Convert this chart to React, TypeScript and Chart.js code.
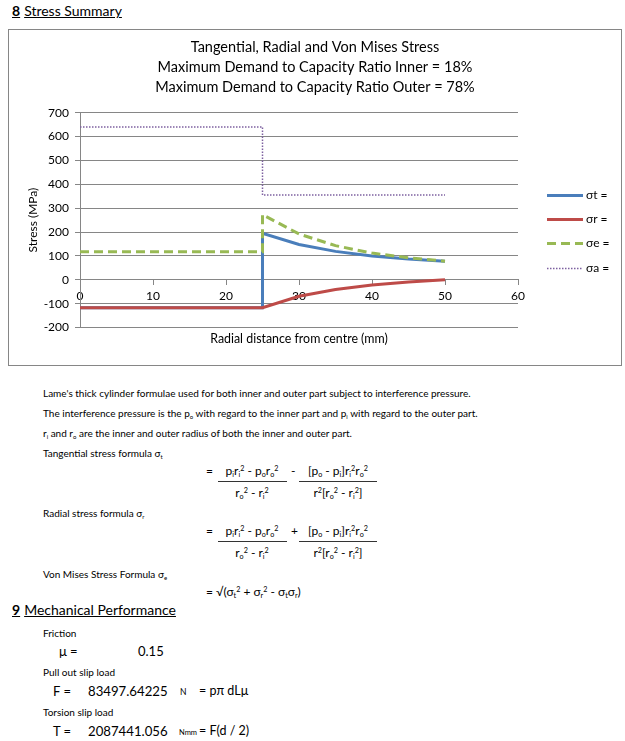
import React, { useEffect, useRef } from 'react';
import { Chart, registerables } from 'chart.js';

Chart.register(...registerables);

// ---------- chart data ----------
const titleLines = [
  'Tangential, Radial and Von Mises Stress',
  'Maximum Demand to Capacity Ratio Inner = 18%',
  'Maximum Demand to Capacity Ratio Outer = 78%',
];
const xAxisTitle = 'Radial distance from centre (mm)';
const yAxisTitle = 'Stress (MPa)';
const seriesNames = ['σt =', 'σr =', 'σe =', 'σa ='];

// tangential stress
const rT = [0, 25, 25, 30, 35, 40, 45, 50];
const sigmaT = [-117, -117, 195, 148, 119, 100, 87, 78];
// radial stress
const rR = [0, 25, 30, 35, 40, 45, 50];
const sigmaR = [-117, -117, -69, -41, -22, -9, 0];
// von mises stress
const rE = [0, 25, 25, 30, 35, 40, 45, 50];
const sigmaE = [117, 117, 273, 192, 143, 112, 92, 78];
// allowable stress
const rA = [0, 25, 25, 50];
const sigmaA = [640, 640, 355, 355];

const xMin = 0;
const xMax = 60;
const xStep = 10;
const yMin = -200;
const yMax = 700;
const yStep = 100;

const seriesColors = ['#4A7EBB', '#BE4B48', '#98B954', '#7D60A0'];

const FONT = 'Lato, "Open Sans", sans-serif';
const GRID = '#868686';

const pts = (xs: number[], ys: number[]) => xs.map((x, i) => ({ x, y: ys[i] }));

const sideLegend = {
  id: 'sideLegend',
  afterDraw(chart: any) {
    const { ctx, chartArea } = chart;
    const x0 = chartArea.right + 29;
    chart.data.datasets.forEach((ds: any, i: number) => {
      const y = Math.round(chartArea.top + 82 + i * 24.3) + 0.5;
      ctx.save();
      ctx.strokeStyle = ds.borderColor;
      ctx.lineWidth = ds.borderWidth;
      ctx.setLineDash(ds.borderDash || []);
      ctx.beginPath();
      ctx.moveTo(x0, y);
      ctx.lineTo(x0 + 36, y);
      ctx.stroke();
      ctx.setLineDash([]);
      ctx.fillStyle = '#000';
      ctx.font = `12px ${FONT}`;
      ctx.textBaseline = 'middle';
      ctx.textAlign = 'left';
      ctx.fillText(ds.label, x0 + 39, y);
      ctx.restore();
    });
  },
};

function StressChart() {
  const ref = useRef<HTMLCanvasElement | null>(null);
  useEffect(() => {
    if (!ref.current) return;
    const mk = (i: number, data: any[], width: number, dash: number[], order: number) => ({
      label: seriesNames[i],
      data,
      showLine: true,
      borderColor: seriesColors[i],
      backgroundColor: seriesColors[i],
      borderWidth: width,
      borderDash: dash,
      pointRadius: 0,
      pointHoverRadius: 0,
      tension: 0,
      order,
    });
    const chart = new Chart(ref.current, {
      type: 'scatter',
      data: {
        datasets: [
          mk(0, pts(rT, sigmaT), 3, [], 4),
          mk(1, pts(rR, sigmaR), 3, [], 3),
          mk(2, pts(rE, sigmaE), 3, [9, 5], 2),
          mk(3, pts(rA, sigmaA), 1.5, [1.5, 1.5], 1),
        ],
      },
      options: {
        responsive: false,
        animation: false,
        devicePixelRatio: 1,
        layout: { padding: { left: 0, right: 0, top: 8, bottom: 14.6 } },
        plugins: {
          legend: { display: false },
          tooltip: { enabled: false },
          title: {
            display: true,
            text: titleLines,
            color: '#000',
            font: { family: FONT, size: 14.5, weight: 'normal', lineHeight: 1.35 },
            padding: { top: 0, bottom: 16 },
          },
        },
        scales: {
          x: {
            type: 'linear',
            min: xMin,
            max: xMax,
            position: { y: 0 },
            ticks: { stepSize: xStep, color: '#000', font: { family: FONT, size: 12 }, padding: 4, maxRotation: 0 },
            grid: { drawOnChartArea: false, drawTicks: true, tickLength: 5, color: GRID },
            border: { color: GRID },
          },
          x2: {
            type: 'linear',
            position: 'bottom',
            ticks: { display: false },
            grid: { display: false, drawTicks: false },
            border: { display: false },
            title: {
              display: true,
              text: xAxisTitle,
              color: '#000',
              font: { family: FONT, size: 12.4 },
              padding: { top: 4, bottom: 4 },
            },
          },
          y: {
            type: 'linear',
            min: yMin,
            max: yMax,
            ticks: { stepSize: yStep, color: '#000', font: { family: FONT, size: 12 }, padding: 6 },
            grid: { color: GRID, tickLength: 5 },
            border: { color: GRID },
            title: {
              display: true,
              text: yAxisTitle,
              color: '#000',
              font: { family: FONT, size: 12 },
              padding: { top: 17, bottom: 0 },
            },
            afterFit: (s: any) => {
              s.width = 71;
            },
          },
          yRight: {
            type: 'linear',
            position: 'right',
            ticks: { display: false },
            grid: { display: false, drawTicks: false },
            border: { display: false },
            afterFit: (s: any) => {
              s.width = 103;
            },
          },
        },
      } as any,
      plugins: [sideLegend],
    });
    return () => chart.destroy();
  }, []);
  return <canvas ref={ref} width={612} height={335} style={{ display: 'block', width: 612, height: 335 }} />;
}

// ---------- page text helpers ----------
const T = ({ x, y, size = 10, children, style }: any) => (
  <div
    style={{
      position: 'absolute',
      left: x,
      top: y - size * 0.55,
      fontSize: size,
      lineHeight: `${size}px`,
      fontFamily: FONT,
      whiteSpace: 'nowrap',
      ...style,
    }}
  >
    {children}
  </div>
);

const Sb = ({ children }: any) => (
  <span style={{ fontSize: '0.6em', verticalAlign: '-0.3em', lineHeight: 0 }}>{children}</span>
);
const Sp = ({ children }: any) => (
  <span style={{ fontSize: '0.6em', verticalAlign: '0.55em', lineHeight: 0 }}>{children}</span>
);

const CenterT = ({ cx, y, size = 12, children }: any) => (
  <div
    style={{
      position: 'absolute',
      left: cx - 60,
      width: 120,
      textAlign: 'center',
      top: y - size * 0.55,
      fontSize: size,
      lineHeight: `${size}px`,
      fontFamily: FONT,
      whiteSpace: 'nowrap',
    }}
  >
    {children}
  </div>
);

const Bar = ({ x, y, w }: any) => (
  <div style={{ position: 'absolute', left: x, top: y, width: w, height: 1, background: '#333' }} />
);

const NumA = () => (
  <>
    p<Sb>i</Sb>r<Sb>i</Sb><Sp>2</Sp> - p<Sb>o</Sb>r<Sb>o</Sb><Sp>2</Sp>
  </>
);
const NumB = () => (
  <>
    [p<Sb>o</Sb> - p<Sb>i</Sb>]r<Sb>i</Sb><Sp>2</Sp>r<Sb>o</Sb><Sp>2</Sp>
  </>
);
const DenA = () => (
  <>
    r<Sb>o</Sb><Sp>2</Sp> - r<Sb>i</Sb><Sp>2</Sp>
  </>
);
const DenB = () => (
  <>
    r<Sp>2</Sp>[r<Sb>o</Sb><Sp>2</Sp> - r<Sb>i</Sb><Sp>2</Sp>]
  </>
);

const Formula = ({ dy, op }: any) => (
  <>
    <T x={206} y={472 + dy} size={12}>=</T>
    <CenterT cx={252} y={472 + dy}><NumA /></CenterT>
    <Bar x={218} y={481 + dy} w={69} />
    <CenterT cx={252} y={494 + dy}><DenA /></CenterT>
    <T x={291} y={472 + dy} size={12}>{op}</T>
    <CenterT cx={338} y={472 + dy}><NumB /></CenterT>
    <Bar x={299} y={481 + dy} w={78} />
    <CenterT cx={338} y={494 + dy}><DenB /></CenterT>
  </>
);

export default function App() {
  return (
    <div style={{ position: 'absolute', left: 0, top: 0, width: 625, height: 741, color: '#000', fontFamily: FONT }}>
      <T x={12} y={12} size={14}>
        <span style={{ fontWeight: 'bold', textDecoration: 'underline' }}>8</span>
        <span style={{ marginLeft: 4, textDecoration: 'underline' }}>Stress Summary</span>
      </T>

      <div style={{ position: 'absolute', left: 8, top: 29, width: 612, height: 335, border: `1px solid ${GRID}` }}>
        <StressChart />
      </div>

      <T x={43} y={393}>Lame's thick cylinder formulae used for both inner and outer part subject to interference pressure.</T>
      <T x={43} y={413}>
        The interference pressure is the p<Sb>o</Sb> with regard to the inner part and p<Sb>i</Sb> with regard to the outer part.
      </T>
      <T x={43} y={433}>
        r<Sb>i</Sb> and r<Sb>o</Sb> are the inner and outer radius of both the inner and outer part.
      </T>
      <T x={43} y={453}>
        Tangential stress formula σ<Sb>t</Sb>
      </T>
      <Formula dy={0} op="-" />
      <T x={43} y={513}>
        Radial stress formula σ<Sb>r</Sb>
      </T>
      <Formula dy={60} op="+" />
      <T x={43} y={574}>
        Von Mises Stress Formula σ<Sb>e</Sb>
      </T>
      <T x={206} y={593} size={12}>
        = √(σ<Sb>t</Sb><Sp>2</Sp> + σ<Sb>r</Sb><Sp>2</Sp> - σ<Sb>t</Sb>σ<Sb>r</Sb>)
      </T>

      <T x={12} y={611} size={14}>
        <span style={{ fontWeight: 'bold', textDecoration: 'underline' }}>9</span>
        <span style={{ marginLeft: 4, textDecoration: 'underline' }}>Mechanical Performance</span>
      </T>
      <T x={43} y={633}>Friction</T>
      <T x={59} y={652} size={13}>μ =</T>
      <T x={138} y={652} size={13}>0.15</T>
      <T x={43} y={672}>Pull out slip load</T>
      <T x={53} y={692} size={13}>F =</T>
      <T x={88} y={692} size={13.2}>83497.64225</T>
      <T x={180} y={693} size={8.5}>N</T>
      <T x={199} y={692} size={12.5}>= pπ dLμ</T>
      <T x={43} y={712}>Torsion slip load</T>
      <T x={53} y={732} size={13}>T =</T>
      <T x={88} y={732} size={13.2}>2087441.056</T>
      <T x={179} y={733} size={7.5}>Nmm</T>
      <T x={199} y={732} size={12.5}>= F(d / 2)</T>
    </div>
  );
}
